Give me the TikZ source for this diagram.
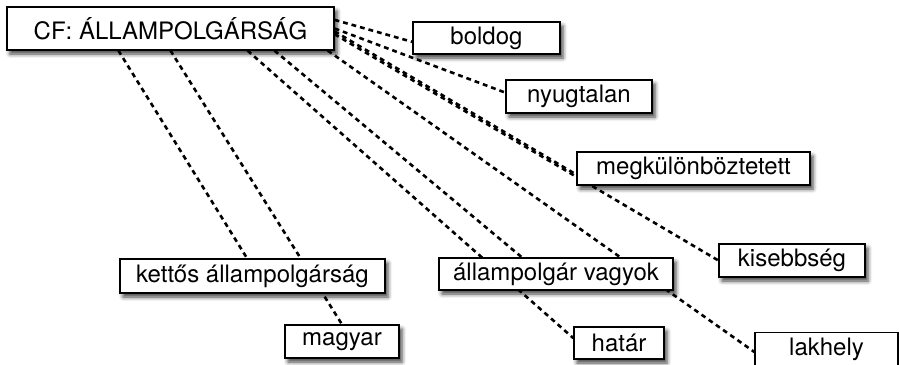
\documentclass[tikz,border=0pt]{standalone}
\usepackage{fontspec}
\setmainfont{TeX Gyre Heros}
\usetikzlibrary{backgrounds,shadows.blur}

\begin{document}
\begin{tikzpicture}
[x=0.5pt,y=-0.5pt,%
  dashLine/.style={dash pattern=on 2.4pt off 2pt,line width=1.3pt},%
  boxDecorate/.style={shape=rectangle,draw,fill=white,line width=0.6pt,inner sep=0pt,%
    blur shadow={shadow xshift=1.5pt,shadow yshift=-2pt,shadow blur radius=2pt,shadow opacity=75},%
    font=\fontsize{12}{14}\selectfont}]
\useasboundingbox (0,0) rectangle (899,364);
%% nodes or boxes
\foreach \nodename/\x/\y/\w/\h/\txt in {cf/170.5/28.5/163.5/21.5/CF: ÁLLAMPOLGÁRSÁG,
  boldog/486.5/38/73.5/16/boldog, nyugtalan/579/96.5/73/16.5/nyugtalan,
  megk/693.5/168.5/116.5/16.5/megkülönböztetett, kisebbseg/792/260.5/73/16.5/kisebbség,
  lakhely/826.5/349.5/71.5/17/lakhely, kettos/252.5/276/132.5/17/kettős állampolgárság,
  magyar/342/341.5/57/16.5/magyar, allampolgar/556/274/117/16/állampolgár vagyok,
  hatar/619/343/45/16/határ}
{
  \node (\nodename) at (\x,\y) [boxDecorate,minimum width=\w pt,minimum height=\h pt] {\txt};
}
%% dashed lines behind the boxes
\begin{scope}[on background layer]
\path
\foreach \startnode/\endnode in {cf.203/kettos.107, cf.south/magyar.north,
  cf.344/hatar.174, cf.348/allampolgar.154, cf.352/lakhely.182,
  cf.3/boldog.183, cf.east/nyugtalan.177, cf.359/megk.183, cf.358/kisebbseg.west}
{
  (\startnode) edge[dashLine] (\endnode)
};
\end{scope}
\end{tikzpicture}
\end{document}
